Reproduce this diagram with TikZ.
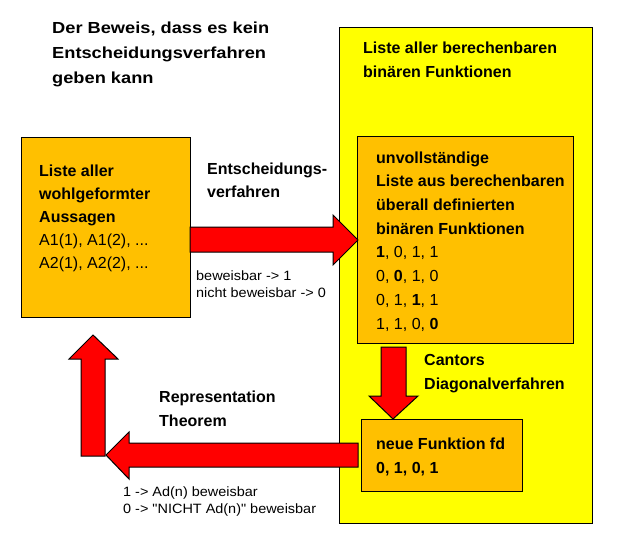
\documentclass[tikz,border=0pt]{standalone}
\usepackage{fontspec}
\setmainfont{Liberation Sans}
\newfontfamily\titlefont{Liberation Sans}[FakeStretch=1.14]
\newfontfamily\plainfont{Liberation Sans}[Ligatures=TeXOff, FakeStretch=1.07]
\definecolor{yel}{RGB}{255,255,0}
\definecolor{org}{RGB}{255,192,0}
\definecolor{arrred}{RGB}{255,0,0}
\tikzset{
  box/.style={draw=black, line width=1pt, inner sep=0pt, anchor=north west},
  ybox/.style={box, fill=yel},
  obox/.style={box, fill=org},
  blockarrow/.style={draw=black, line width=1pt, fill=arrred, line join=miter},
  lab/.style={anchor=base west, inner sep=0pt, align=left, font=\fontsize{16}{24}\bfseries\selectfont},
  small/.style={anchor=base west, inner sep=0pt, align=left, font=\fontsize{13.5}{17}\plainfont\selectfont},
}
\begin{document}
\begin{tikzpicture}[x=1pt,y=-1pt]
\useasboundingbox (0,0) rectangle (617,557);
% boxes
\node[ybox, minimum width=253pt, minimum height=496pt] (yellow) at (339,27) {};
\node[obox, minimum width=216pt, minimum height=207pt] (inner) at (357,136) {};
\node[obox, minimum width=169pt, minimum height=180pt] (left) at (21,137) {};
\node[obox, minimum width=161pt, minimum height=72pt] (neu) at (361,419) {};
% arrows
\draw[blockarrow] (190,227) -- (333,227) -- (333,215) -- (358,240) -- (333,265) -- (333,252) -- (190,252) -- cycle;
\draw[blockarrow] (381,347) -- (406,347) -- (406,396) -- (418,396) -- (393,419) -- (369,396) -- (381,396) -- cycle;
\draw[blockarrow] (358,443) -- (129,443) -- (129,432) -- (106,455) -- (129,479) -- (129,467) -- (358,467) -- cycle;
\draw[blockarrow] (81,456) -- (81,359) -- (69,359) -- (93,335) -- (118,359) -- (105,359) -- (105,456) -- cycle;
% texts (anchored at the baseline of the last line)
\node[lab, font=\fontsize{16}{25}\titlefont\bfseries\selectfont] (title) at (52,83)
  {Der Beweis, dass es kein\\Entscheidungsverfahren\\geben kann};
\node[lab] (ytext) at (363,77) {Liste aller berechenbaren\\bin\"aren Funktionen};
\node[lab, font=\fontsize{16}{23.7}\bfseries\selectfont] (itext) at (376,329)
  {unvollst\"andige\\Liste aus berechenbaren\\\"uberall definierten\\bin\"aren Funktionen\\
   \textbf{1}\mdseries, 0, 1, 1\\
   \mdseries 0, \textbf{0}, 1, 0\\
   \mdseries 0, 1, \textbf{1}, 1\\
   \mdseries 1, 1, 0, \textbf{0}};
\node[lab, font=\fontsize{16}{23}\bfseries\selectfont] (ltext) at (39,268)
  {Liste aller\\wohlgeformter\\Aussagen\\\mdseries A1(1), A1(2), ...\\\mdseries A2(1), A2(2), ...};
\node[lab, font=\fontsize{16}{23}\bfseries\selectfont] (entsch) at (207,197) {Entscheidungs-\\verfahren};
\node[small] (bew) at (196,297) {beweisbar -> 1\\nicht beweisbar -> 0};
\node[lab] (cantor) at (424,389) {Cantors\\Diagonalverfahren};
\node[lab] (ntext) at (376,473) {neue Funktion fd\\0, 1, 0, 1};
\node[lab] (repr) at (159,426) {Representation\\Theorem};
\node[small] (adn) at (123,513) {1 -> Ad(n) beweisbar\\0 -> "NICHT Ad(n)" beweisbar};
\end{tikzpicture}
\end{document}
